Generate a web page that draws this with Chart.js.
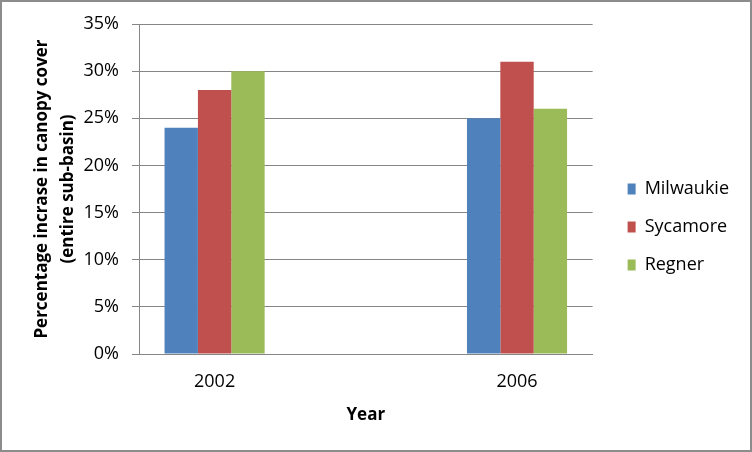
<!DOCTYPE html>
<html>
<head>
<meta charset="utf-8">
<script src="https://cdn.jsdelivr.net/npm/chart.js@4"></script>
<style>
  html, body { margin: 0; padding: 0; background: #fff; }
  #wrap { width: 752px; height: 452px; }
</style>
</head>
<body>
<div id="wrap"><canvas id="chart" width="752" height="452"></canvas></div>
<script>
const years = [2002, 2006]
const milwaukie = [0.24, 0.25]
const sycamore = [0.28, 0.31]
const regner = [0.30, 0.26]
const yTitle = ["Percentage incrase in canopy cover", "(entire sub-basin)"]
const xTitle = "Year"

const axisGray = "#868686"
const font = { family: "Open Sans", size: 18 }
const boldFont = { family: "Open Sans", size: 17, weight: "bold" }

const points = values => years.map((x, i) => ({ x, y: values[i] }))

// grey frame round the whole picture, and nudge the legend right
const frame = {
  id: "frame",
  beforeDraw(chart) {
    const ctx = chart.ctx
    ctx.save()
    ctx.fillStyle = "#fff"
    ctx.fillRect(0, 0, chart.width, chart.height)
    ctx.strokeStyle = "#8c8c8c"
    ctx.lineWidth = 2
    ctx.strokeRect(1, 1, chart.width - 2, chart.height - 2)
    ctx.restore()
  },
  afterLayout(chart) {
    chart.legend.left += 15
    chart.legend.right += 15
  }
}

new Chart(document.getElementById("chart"), {
  type: "bar",
  data: {
    datasets: [
      { label: "Milwaukie", data: points(milwaukie), backgroundColor: "#4F81BD" },
      { label: "Sycamore", data: points(sycamore), backgroundColor: "#C0504D" },
      { label: "Regner", data: points(regner), backgroundColor: "#9BBB59" }
    ]
  },
  options: {
    responsive: false,
    animation: false,
    devicePixelRatio: 1,
    categoryPercentage: 0.331,
    barPercentage: 1,
    layout: { padding: { left: 0, top: 24, right: 28, bottom: 22 } },
    scales: {
      x: {
        type: "linear",
        offset: false,
        min: 2001,
        max: 2007,
        afterBuildTicks: scale => { scale.ticks = years.map(v => ({ value: v })) },
        afterFit: scale => { scale.height = 76 },
        grid: { display: false, offset: false },
        border: { display: true, color: axisGray, width: 1 },
        ticks: { font, color: "#000", padding: 9, callback: v => String(v) },
        title: { display: true, text: xTitle, font: boldFont, color: "#000", padding: { top: 0, bottom: 5 } }
      },
      y: {
        min: 0,
        max: 0.35,
        afterFit: scale => { scale.width = 139 },
        grid: { color: axisGray, tickLength: 7 },
        border: { color: axisGray },
        ticks: {
          stepSize: 0.05,
          font,
          color: "#000",
          padding: 13,
          callback: v => Math.round(v * 100) + "%"
        },
        title: {
          display: true,
          text: yTitle,
          font: { family: "Open Sans", size: 17, weight: "bold", lineHeight: 1.53 },
          color: "#000",
          padding: { top: 29, bottom: 0 }
        }
      }
    },
    plugins: {
      legend: {
        position: "right",
        align: "center",
        labels: { boxWidth: 8, boxHeight: 11, padding: 20, font, color: "#000" }
      },
      tooltip: { enabled: false }
    }
  },
  plugins: [frame]
})
</script>
</body>
</html>
